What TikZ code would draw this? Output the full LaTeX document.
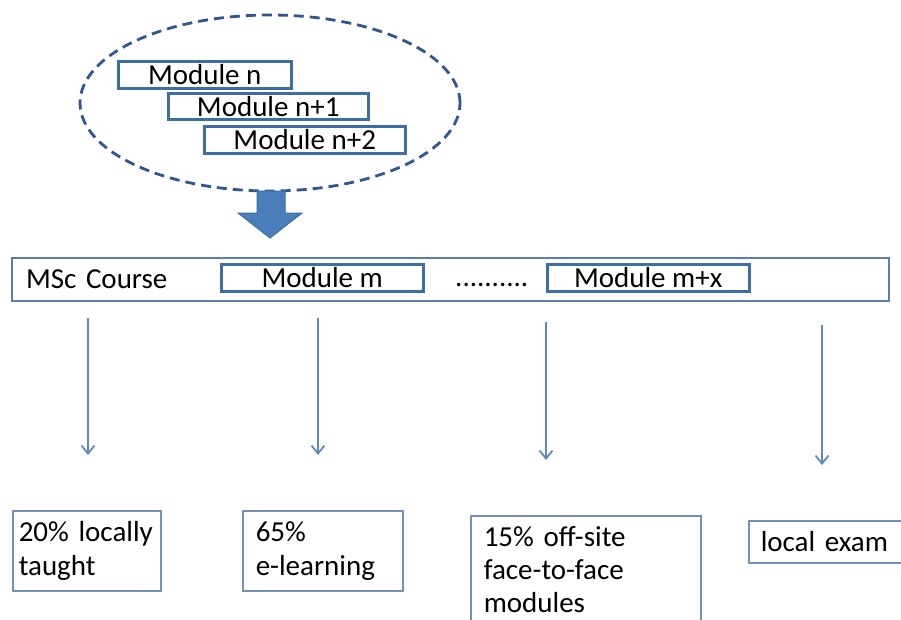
\documentclass[tikz,border=0pt]{standalone}
\usepackage{fontspec}
\setmainfont{Carlito}
\usetikzlibrary{shapes.geometric,arrows.meta}
\definecolor{modblue}{HTML}{3C6EA5}
\definecolor{bigblue}{HTML}{5A7FAF}
\definecolor{lowblue}{HTML}{7490B8}
\definecolor{ellblue}{HTML}{2F5597}
\definecolor{fillblue}{HTML}{4A7EBB}
\definecolor{arrblue}{HTML}{5B89C6}
\tikzset{
  txt/.style={font=\fontsize{29}{34}\selectfont, text=black},
  modbox/.style={txt, draw=modblue, line width=2.5pt, inner sep=0pt, anchor=north west},
  bigbox/.style={txt, draw=bigblue, line width=2pt, anchor=north west, align=left},
  lowbox/.style={txt, draw=lowblue, line width=1.5pt, anchor=north west, align=left, inner ysep=0pt},
  pool/.style={ellipse, draw=ellblue, line width=2.8pt, dash pattern=on 10pt off 6pt, inner sep=0pt},
  thinarrow/.style={draw=arrblue, line width=1.8pt, -{Straight Barb[length=8pt,width=13pt,line width=1.8pt]}},
}
\begin{document}
\begin{tikzpicture}[x=1pt,y=-1pt]
\useasboundingbox (0,0) rectangle (901,619);
\clip (0,0) rectangle (901,619);
\fill[white] (0,0) rectangle (901,619);
% dashed pool of modules
\node[pool, minimum width=380pt, minimum height=176pt] (poolnode) at (270,103) {};
\node[modbox, minimum width=173pt, minimum height=27pt] (mn) at (117,60) {Module n};
\node[modbox, minimum width=200pt, minimum height=26pt] (mn1) at (167,92) {Module n+1};
\node[modbox, minimum width=201pt, minimum height=27pt] (mn2) at (203,125) {Module n+2};
% block arrow
\filldraw[fill=fillblue, draw=modblue, line width=1pt, line join=miter]
  (257,191) -- (285,191) -- (285,213) -- (302,213) -- (270,238) -- (238,213) -- (257,213) -- cycle;
% course bar
\node[bigbox, minimum width=877pt, minimum height=43pt, text width=849pt, inner xsep=14pt, inner ysep=0pt] (course) at (11,257) {MSc Course};
\node[modbox, minimum width=202pt, minimum height=27pt] (mm) at (220,263) {Module m};
\node[txt, inner sep=0pt, anchor=base west] (dots) at (455,286) {..........};
\node[modbox, minimum width=202pt, minimum height=27pt] (mmx) at (546,263) {Module m+x};
% arrows
\coordinate (a1s) at (88,318);  \coordinate (a1e) at (88,455);
\coordinate (a2s) at (318,318); \coordinate (a2e) at (318,455);
\coordinate (a3s) at (546,322); \coordinate (a3e) at (546,460);
\coordinate (a4s) at (822,325); \coordinate (a4e) at (822,465);
\draw[thinarrow] (a1s) -- (a1e);
\draw[thinarrow] (a2s) -- (a2e);
\draw[thinarrow] (a3s) -- (a3e);
\draw[thinarrow] (a4s) -- (a4e);
% bottom boxes
\node[lowbox, minimum width=148pt, minimum height=80pt, inner xsep=6pt, text width=136pt] (b1) at (12,510) {20\% locally\\taught};
\node[lowbox, minimum width=160pt, minimum height=80pt, inner xsep=13pt, text width=134pt] (b2) at (242,510) {65\%\\e-learning};
\node[lowbox, font=\fontsize{29}{33}\selectfont, minimum width=230pt, minimum height=107pt, inner xsep=13pt, text width=204pt] (b3) at (470,515) {15\% off-site\\face-to-face\\modules};
\node[lowbox, minimum width=170pt, minimum height=42pt, inner xsep=12pt, text width=146pt] (b4) at (748,520) {local exam};
\end{tikzpicture}
\end{document}
